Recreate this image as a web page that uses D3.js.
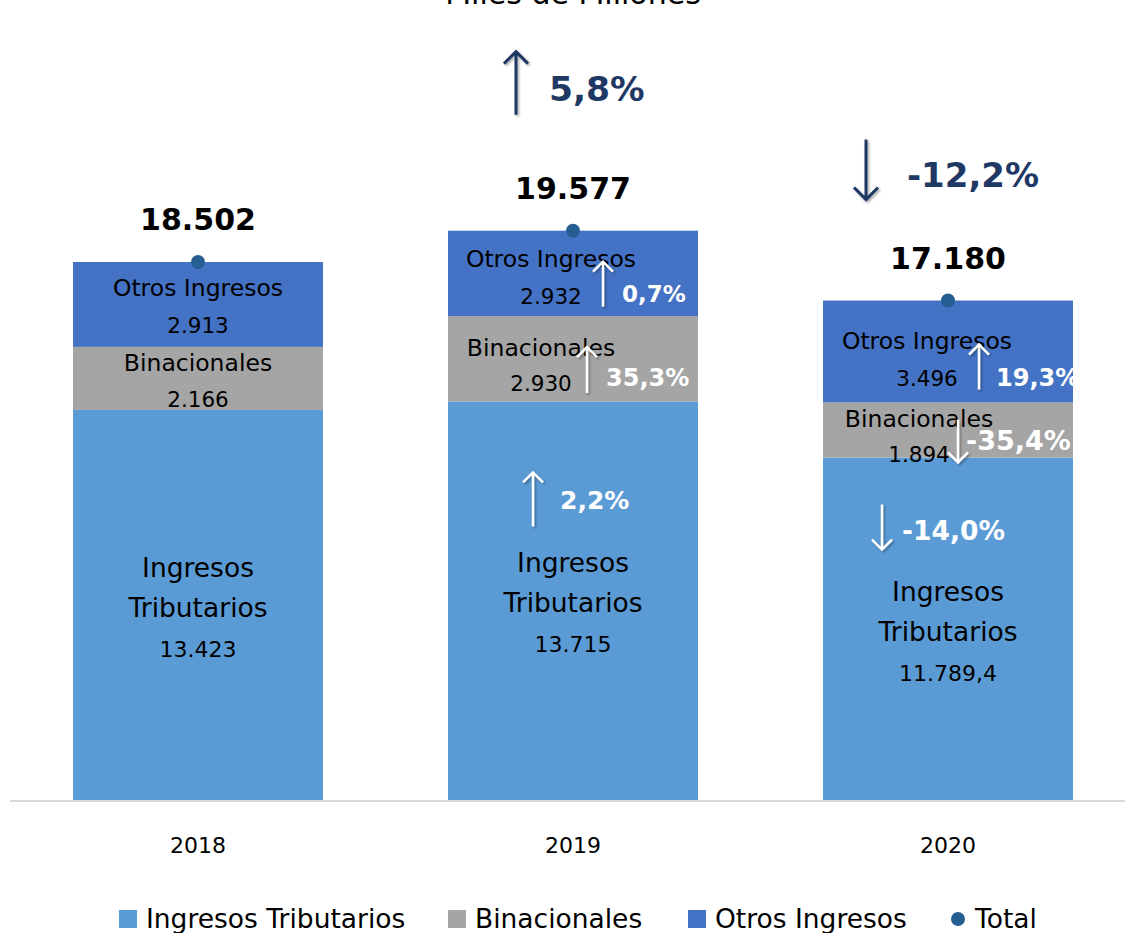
<!DOCTYPE html>
<html><head><meta charset="utf-8">
<script src="https://cdn.jsdelivr.net/npm/d3@7"></script>
<style>
html,body{margin:0;padding:0;background:#fff;}
svg{display:block;font-family:"DejaVu Sans",sans-serif;}
</style></head>
<body>
<svg id="chart" width="1125" height="933"></svg>
<script>
// ---- data ----
const years = ["2018", "2019", "2020"];
const tributarios = [13423, 13715, 11789.4];
const binacionales = [2166, 2930, 1894];
const otros = [2913, 2932, 3496];
const totals = [18502, 19577, 17180];
const segLabels = {trib: ["13.423", "13.715", "11.789,4"], bin: ["2.166", "2.930", "1.894"], otros: ["2.913", "2.932", "3.496"]};
const totalLabels = ["18.502", "19.577", "17.180"];
const seriesNames = ["Ingresos Tributarios", "Binacionales", "Otros Ingresos", "Total"];
const changes = [
  {year: "2019", key: "total", label: "5,8%", dir: "up"},
  {year: "2020", key: "total", label: "-12,2%", dir: "down"},
  {year: "2019", key: "trib", label: "2,2%", dir: "up"},
  {year: "2019", key: "otros", label: "0,7%", dir: "up"},
  {year: "2019", key: "bin", label: "35,3%", dir: "up"},
  {year: "2020", key: "otros", label: "19,3%", dir: "up"},
  {year: "2020", key: "bin", label: "-35,4%", dir: "down"},
  {year: "2020", key: "trib", label: "-14,0%", dir: "down"}
];

// ---- layout / style ----
const colors = {trib: "#5B9BD5", bin: "#A5A5A5", otros: "#4472C4", total: "#255E91"};
const navy = "#1F3864";
const keys = ["trib", "bin", "otros"];
const FONT = "'DejaVu Sans',sans-serif";

const svg = d3.select("#chart");
const x = d3.scaleBand().domain(years).range([10.5, 1135.5]).paddingInner(1/3).paddingOuter(1/6);
const y = d3.scaleLinear().domain([0, 18502]).range([801, 262]);

const rows = years.map((yr, i) => ({year: yr, trib: tributarios[i], bin: binacionales[i], otros: otros[i], total: totals[i]}));
const stacked = d3.stack().keys(keys)(rows);

const defs = svg.append("defs");
const f = defs.append("filter").attr("id", "sh").attr("x", "-50%").attr("y", "-50%").attr("width", "200%").attr("height", "200%");
f.append("feDropShadow").attr("dx", 1.5).attr("dy", 1.5).attr("stdDeviation", 1).attr("flood-color", "#000").attr("flood-opacity", 0.35);

// bars
stacked.forEach(s => {
  svg.append("g").selectAll("rect").data(s).join("rect")
    .attr("x", d => x(d.data.year))
    .attr("width", x.bandwidth())
    .attr("y", d => y(d[1]))
    .attr("height", d => y(d[0]) - y(d[1]))
    .attr("fill", colors[s.key]);
});

// axis baseline
const xAxis = svg.append("g").attr("transform", "translate(0,801)").call(d3.axisBottom(x).tickSize(0).tickPadding(0));
xAxis.select(".domain").attr("stroke", "#D9D9D9").attr("stroke-width", 2).attr("d", "M10,0H1125");
xAxis.selectAll(".tick text").attr("dy", null).attr("y", 52).attr("font-size", 22).attr("fill", "#000").attr("font-family", FONT);

// title (cut off at top as in the reference)
svg.append("text").attr("x", x("2019") + x.bandwidth() / 2).attr("y", 4).attr("text-anchor", "middle")
  .attr("font-size", 30).attr("fill", "#000").text("Miles de Millones");

// segment labels
const segLayout = {
  otros: [{dx: 0, n: 34, v: 71}, {dx: -22, n: 36, v: 73}, {dx: -21, n: 48, v: 85}],
  bin: [{dx: 0, n: 24, v: 60}, {dx: -32, n: 40, v: 75}, {dx: -29, n: 25, v: 60}],
  trib: [{n: 167}, {n: 171}, {n: 143}]
};
const segName = {otros: "Otros Ingresos", bin: "Binacionales"};
const topOf = (key, i) => y(stacked[keys.indexOf(key)][i][1]);
years.forEach((yr, i) => {
  const cx = x(yr) + x.bandwidth() / 2;
  ["otros", "bin"].forEach(k => {
    const L = segLayout[k][i];
    const t = topOf(k, i);
    svg.append("text").attr("x", cx + L.dx).attr("y", t + L.n).attr("text-anchor", "middle")
      .attr("font-size", 23.5).attr("fill", "#000").text(segName[k]);
    svg.append("text").attr("x", cx + L.dx).attr("y", t + L.v).attr("text-anchor", "middle")
      .attr("font-size", 21.5).attr("fill", "#000").text(segLabels[k][i]);
  });
  const t = topOf("trib", i);
  const L = segLayout.trib[i];
  ["Ingresos", "Tributarios", segLabels.trib[i]].forEach((s, j) => {
    svg.append("text").attr("x", cx).attr("y", t + L.n + j * 40).attr("text-anchor", "middle")
      .attr("font-size", j < 2 ? 26.5 : 22).attr("fill", "#000").text(s);
  });
});

// total dots & labels
svg.append("g").selectAll("circle").data(rows).join("circle")
  .attr("cx", d => x(d.year) + x.bandwidth() / 2)
  .attr("cy", d => y(d.total))
  .attr("r", 7).attr("fill", colors.total);
svg.append("g").selectAll("text").data(rows).join("text")
  .attr("x", d => x(d.year) + x.bandwidth() / 2)
  .attr("y", d => y(d.total) - 32)
  .attr("text-anchor", "middle").attr("font-size", 30).attr("font-weight", "bold").attr("fill", "#000")
  .text((d, i) => totalLabels[i]);

// change annotations
const annLayout = [
  {ax: -57, a1: -116, a2: -179, tx: -24, ty: -130, fs: 34.5, c: navy, sw: 3, hs: 12},
  {ax: -82, a1: -161, a2: -101, tx: -41, ty: -114, fs: 34, c: navy, sw: 3, hs: 12},
  {ax: -40, a1: 125, a2: 71, tx: -13, ty: 108, fs: 25, c: "#fff", sw: 2.5, hs: 10},
  {ax: 30, a1: 76, a2: 31, tx: 49, ty: 71, fs: 23, c: "#fff", sw: 2.5, hs: 10},
  {ax: 14, a1: 77, a2: 31, tx: 33, ty: 70, fs: 24, c: "#fff", sw: 2.5, hs: 10},
  {ax: 31, a1: 89, a2: 44, tx: 48, ty: 85, fs: 24, c: "#fff", sw: 2.5, hs: 10},
  {ax: 10, a1: 17, a2: 60, tx: 18, ty: 48, fs: 27, c: "#fff", sw: 2.5, hs: 10},
  {ax: -66, a1: 47, a2: 92, tx: -46, ty: 82, fs: 26.5, c: "#fff", sw: 2.5, hs: 10}
];
changes.forEach((c, k) => {
  const L = annLayout[k];
  const i = years.indexOf(c.year);
  const cx = x(c.year) + x.bandwidth() / 2;
  const top = c.key === "total" ? y(totals[i]) : topOf(c.key, i);
  const ax = cx + L.ax, y1 = top + L.a1, y2 = top + L.a2;
  const s = c.dir === "up" ? 1 : -1;
  svg.append("path")
    .attr("d", `M${ax},${y1}L${ax},${y2}M${ax - L.hs},${y2 + s * L.hs}L${ax},${y2}L${ax + L.hs},${y2 + s * L.hs}`)
    .attr("fill", "none").attr("stroke", L.c).attr("stroke-width", L.sw).attr("filter", "url(#sh)");
  svg.append("text").attr("x", cx + L.tx).attr("y", top + L.ty)
    .attr("font-size", L.fs).attr("font-weight", "bold").attr("fill", L.c).text(c.label);
});

// legend
const legX = [119, 448, 688, 950];
const leg = svg.append("g");
seriesNames.forEach((n, i) => {
  const g = leg.append("g").attr("transform", `translate(${legX[i]},0)`);
  if (i < 3) {
    g.append("rect").attr("x", 0).attr("y", 910).attr("width", 18).attr("height", 18).attr("fill", colors[keys[i]]);
    g.append("text").attr("x", 27).attr("y", 928).attr("font-size", 26.5).attr("fill", "#000").text(n);
  } else {
    g.append("circle").attr("cx", 8).attr("cy", 919).attr("r", 7).attr("fill", colors.total);
    g.append("text").attr("x", 25).attr("y", 928).attr("font-size", 26.5).attr("fill", "#000").text(n);
  }
});
</script>
</body></html>
